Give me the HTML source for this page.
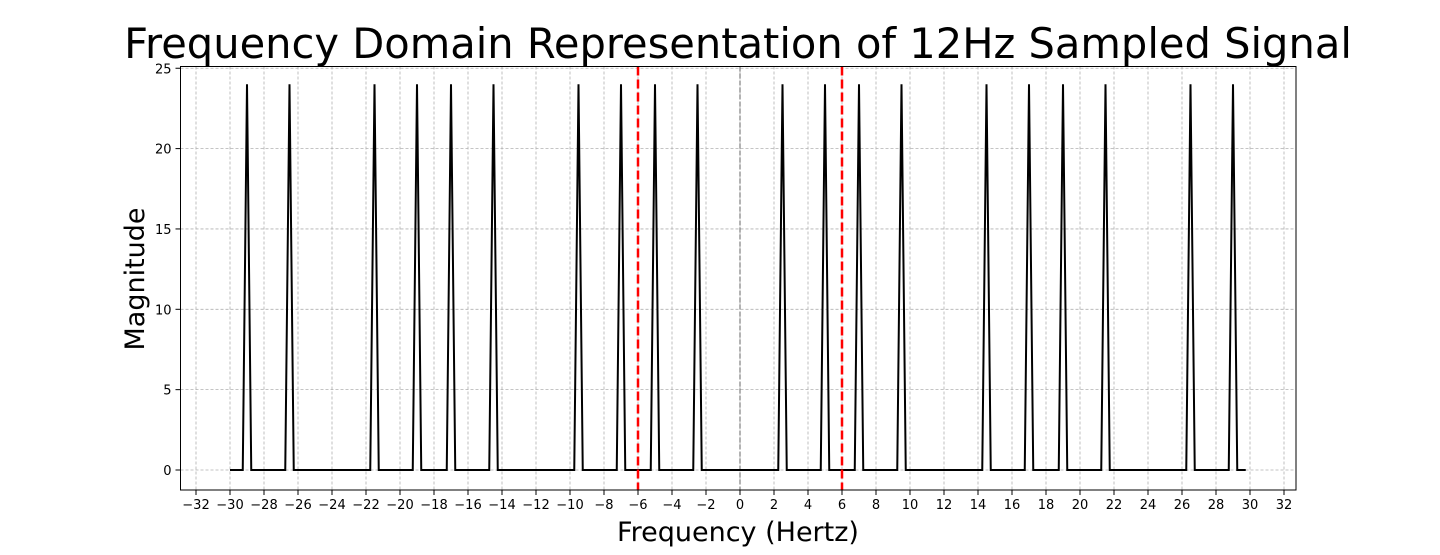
<!DOCTYPE html>
<html><head><meta charset="utf-8"><style>
html,body{margin:0;padding:0;background:#fff;}
svg text{font-family:"DejaVu Sans","Liberation Sans",sans-serif;}
</style></head><body>
<svg id="chart" width="1440" height="550" viewBox="0 0 1440 550" xmlns="http://www.w3.org/2000/svg">
<text x="738" y="58" font-size="41.6" text-anchor="middle">Frequency Domain Representation of 12Hz Sampled Signal</text>
<text x="738" y="541" font-size="27" text-anchor="middle">Frequency (Hertz)</text>
<text transform="translate(144,279) rotate(-90)" font-size="27" text-anchor="middle">Magnitude</text>
<g id="grid"></g>
<g id="marks"></g>
<g id="axes"></g>
</svg>
<script>
const xTicks=[-32,-30,-28,-26,-24,-22,-20,-18,-16,-14,-12,-10,-8,-6,-4,-2,0,2,4,6,8,10,12,14,16,18,20,22,24,26,28,30,32];
const yTicks=[0,5,10,15,20,25];
const peakFreqs=[-29,-26.5,-21.5,-19,-17,-14.5,-9.5,-7,-5,-2.5,2.5,5,7,9.5,14.5,17,19,21.5,26.5,29];
const peakMags=[24,24,24,24,24,24,24,24,24,24,24,24,24,24,24,24,24,24,24,24];
const freqStart=-30, freqEnd=29.75, freqStep=0.25;
const nyquist=[-6,6];

const L=180.5,R=1296,T=66.5,B=490;
const xs=f=>740+f*17;
const ys=v=>470-v*16.07;
const NS="http://www.w3.org/2000/svg";
function mk(tag,attrs,parent){const e=document.createElementNS(NS,tag);for(const k in attrs)e.setAttribute(k,attrs[k]);parent.appendChild(e);return e;}
const grid=document.getElementById('grid'),marks=document.getElementById('marks'),axes=document.getElementById('axes');

xTicks.forEach(t=>{
  const g=mk('line',{x1:xs(t),x2:xs(t),y1:T,y2:B,stroke:'#b0b0b0','stroke-width':0.8,'stroke-dasharray':'3,2'},grid);
  
  
  const tk=mk('line',{x1:xs(t),x2:xs(t),y1:B,y2:B+5,stroke:'#000','stroke-width':1},axes);
  
  
  const lb=mk('text',{x:xs(t),y:B+19,'font-size':13,'text-anchor':'middle'},axes);
  lb.textContent=(t<0?'\u2212'+(-t):String(t));
  
  
});
yTicks.forEach(t=>{
  const g=mk('line',{x1:L,x2:R,y1:ys(t),y2:ys(t),stroke:'#b0b0b0','stroke-width':0.8,'stroke-dasharray':'3,2'},grid);
  
  
  const tk=mk('line',{x1:L-5,x2:L,y1:ys(t),y2:ys(t),stroke:'#000','stroke-width':1},axes);
  
  
  const lb=mk('text',{x:L-9,y:ys(t)+5,'font-size':13,'text-anchor':'end'},axes);
  lb.textContent=String(t);
  
  
});

const z=mk('line',{x1:xs(0),x2:xs(0),y1:T,y2:B,stroke:'#808080','stroke-width':1.2,'stroke-dasharray':'5,2'},marks);



let pts=[];
const n=Math.round((freqEnd-freqStart)/freqStep);
for(let i=0;i<=n;i++){
  const f=freqStart+i*freqStep;
  let m=0;
  peakFreqs.forEach((p,j)=>{if(Math.abs(p-f)<1e-6)m=peakMags[j];});
  pts.push(xs(f).toFixed(2)+','+ys(m).toFixed(2));
}
const pl=mk('polyline',{points:pts.join(' '),fill:'none',stroke:'#000','stroke-width':2,'stroke-linejoin':'miter'},marks);



nyquist.forEach(f=>{
  const l=mk('line',{x1:xs(f),x2:xs(f),y1:T,y2:B,stroke:'#ff0000','stroke-width':2.5,'stroke-dasharray':'9,4'},marks);
  
  
});

const fr=mk('rect',{x:L,y:T,width:R-L,height:B-T,fill:'none',stroke:'#000','stroke-width':1},axes);


</script>
</body></html>
